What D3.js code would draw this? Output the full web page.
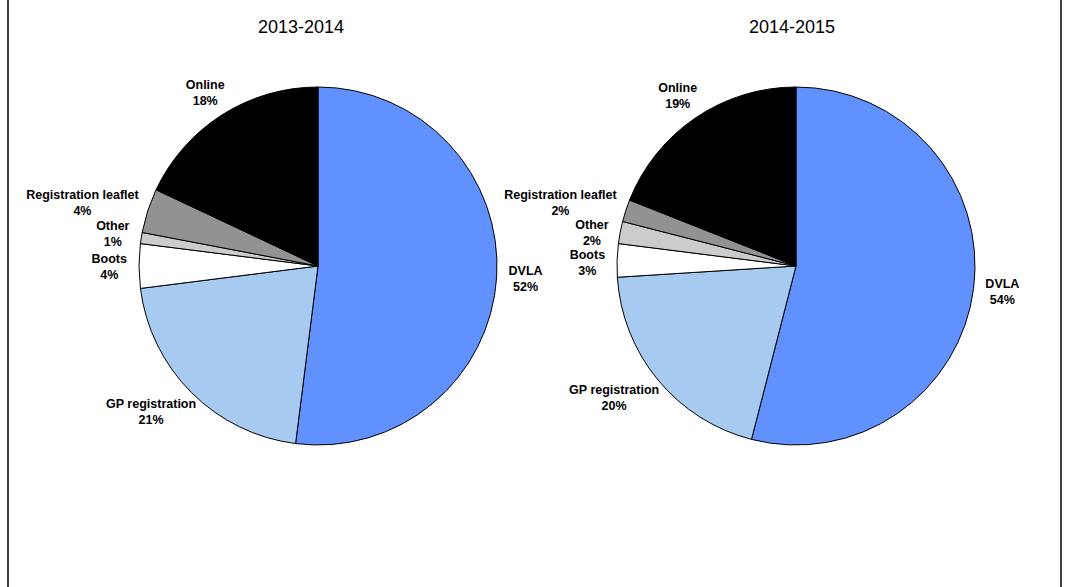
<!DOCTYPE html>
<html>
<head>
	<title>Registration source pies</title>
	<script src="https://cdn.jsdelivr.net/npm/d3@7/dist/d3.min.js"></script>
	<style>
		body { margin: 0; background: #fff; }
		text { font-family: Arial, "Liberation Sans", sans-serif; fill: #000; }
		.title { font-size: 18px; }
		.label { font-size: 12.5px; font-weight: bold; }
	</style>
</head>
<body>
	<svg id="chart" width="1066" height="587"></svg>
	<script type="text/javascript">
		// categories in slice order (clockwise from 12 o'clock)
		const categories = ["DVLA", "GP registration", "Boots", "Other", "Registration leaflet", "Online"];
		const years = ["2013-2014", "2014-2015"];
		const values2013 = [52, 21, 4, 1, 4, 18];
		const values2014 = [54, 20, 3, 2, 2, 19];
		const sliceColours = ["#6191ff", "#a6caf0", "#ffffff", "#cccccc", "#929292", "#000000"];

		const W = 1066, H = 587;
		const pieR = 179;
		const labelGap = 12;  // distance of the label box from the rim, Excel style
		const lineH = 16;
		const blockH = 30;

		const svg = d3.select("#chart");

		// the frame only has left and right sides
		svg.append("line").attr("x1", 8).attr("x2", 8).attr("y1", 0).attr("y2", H)
			.attr("stroke", "#000").attr("stroke-width", 1.5);
		svg.append("line").attr("x1", 1061).attr("x2", 1061).attr("y1", 0).attr("y2", H)
			.attr("stroke", "#000").attr("stroke-width", 1.5);

		const colour = d3.scaleOrdinal().domain(categories).range(sliceColours);
		const centreX = d3.scalePoint().domain(years).range([318, 796]);
		const titleX = d3.scalePoint().domain(years).range([301, 792]);

		const pie = d3.pie().sort(null).value(d => d.value);
		const arc = d3.arc().innerRadius(0).outerRadius(pieR);

		[values2013, values2014].forEach((vals, i) => {
			const year = years[i];
			const rows = categories.map((c, j) => ({ name: c, value: vals[j] }));
			const slices = pie(rows);

			svg.append("text")
				.attr("class", "title")
				.attr("x", titleX(year))
				.attr("y", 33)
				.attr("text-anchor", "middle")
				.text(year);

			const g = svg.append("g").attr("transform", `translate(${centreX(year)},266)`);

			g.selectAll("path")
				.data(slices)
				.join("path")
					.attr("d", arc)
					.attr("fill", d => colour(d.data.name))
					.attr("stroke", "#000")
					.attr("stroke-width", 1)
					.attr("stroke-linejoin", "round");

			const lbl = g.selectAll("text.label")
				.data(slices)
				.join("text")
					.attr("class", "label")
					.attr("text-anchor", "middle");
			lbl.append("tspan").attr("x", 0).attr("dy", -3.5).text(d => d.data.name);
			lbl.append("tspan").attr("x", 0).attr("dy", lineH).text(d => d.data.value + "%");

			// place each label box just outside the rim along the slice's middle angle
			lbl.each(function(d) {
				const w = this.getBBox().width;
				const a = (d.startAngle + d.endAngle) / 2;
				const s = Math.sin(a), c = Math.cos(a);
				const R = pieR + labelGap;
				d.w = w;
				d.lx = R * s + s * w / 2;
				d.ly = -R * c - c * blockH / 2;
				d.side = s < 0 ? -1 : 1;
			});

			// push neighbouring labels apart on each side
			[-1, 1].forEach(side => {
				const list = slices.filter(d => d.side === side).sort((a, b) => a.ly - b.ly);
				for (let k = 1; k < list.length; k++) {
					const p = list[k - 1], q = list[k];
					const xOverlap = Math.abs(p.lx - q.lx) < (p.w + q.w) / 2;
					if (xOverlap && q.ly - p.ly < blockH) q.ly = p.ly + blockH;
				}
			});

			lbl.attr("transform", d => `translate(${d.lx},${d.ly})`);
		});
	</script>
</body>
</html>
